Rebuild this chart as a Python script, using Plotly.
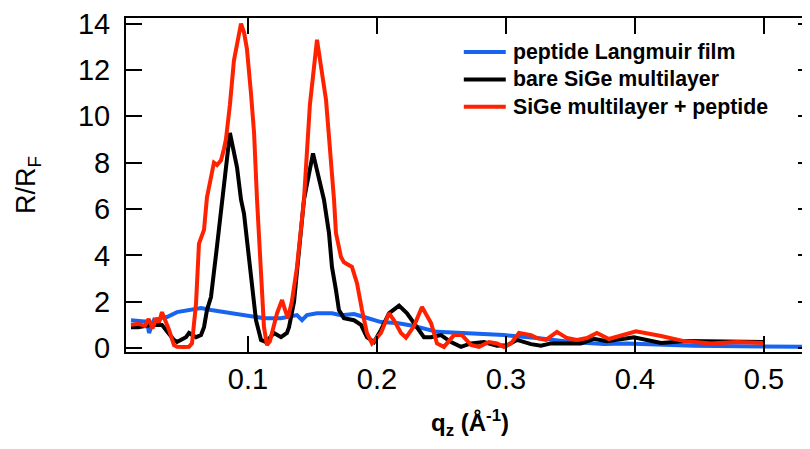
import plotly.graph_objects as go

# peptide Langmuir film (blue)
q_blue = [0.0093, 0.0150, 0.0200, 0.0217, 0.0233, 0.0271, 0.0295, 0.0326, 0.0372, 0.0450,
          0.0558, 0.0636, 0.0713, 0.0814, 0.0915, 0.1023, 0.1124, 0.1256, 0.1380, 0.1419,
          0.1457, 0.1535, 0.1651, 0.1721, 0.1822, 0.1899, 0.2031, 0.2155, 0.2287, 0.2465,
          0.2729, 0.2984, 0.3240, 0.3504, 0.3760, 0.3938, 0.4457, 0.4977, 0.5388]
r_blue = [1.2, 1.15, 1.15, 1.16, 0.65, 1.2, 1.1, 1.29, 1.34, 1.55,
          1.68, 1.73, 1.64, 1.55, 1.47, 1.34, 1.29, 1.29, 1.42, 1.2,
          1.42, 1.5, 1.5, 1.42, 1.47, 1.34, 1.12, 1.08, 0.95, 0.7,
          0.65, 0.56, 0.43, 0.26, 0.17, 0.2, 0.1, 0.05, 0.05]

# bare SiGe multilayer (black)
q_black = [0.0093, 0.0150, 0.0200, 0.0250, 0.0295, 0.0333, 0.0364, 0.0426, 0.0450, 0.0519,
           0.0543, 0.0597, 0.0636, 0.0659, 0.0682, 0.0713, 0.0760, 0.0814, 0.0860, 0.0915,
           0.0946, 0.0969, 0.1023, 0.1062, 0.1101, 0.1140, 0.1202, 0.1256, 0.1302, 0.1318,
           0.1357, 0.1395, 0.1434, 0.1504, 0.1589, 0.1628, 0.1651, 0.1682, 0.1705, 0.1744,
           0.1822, 0.1876, 0.1922, 0.1977, 0.2031, 0.2093, 0.2171, 0.2233, 0.2287, 0.2364,
           0.2419, 0.2496, 0.2574, 0.2651, 0.2729, 0.2829, 0.2930, 0.3008, 0.3085, 0.3194,
           0.3271, 0.3349, 0.3450, 0.3581, 0.3682, 0.3783, 0.3992, 0.4202, 0.4403, 0.4713,
           0.5000]
r_black = [0.9, 0.9, 0.95, 1.0, 1.0, 1.0, 0.78, 0.35, 0.26, 0.47,
           0.65, 0.47, 0.56, 0.9, 1.64, 2.2, 4.4, 7.25, 9.28, 7.8,
           6.4, 5.8, 2.9, 1.2, 0.35, 0.26, 0.65, 0.47, 0.65, 0.9,
           2.0, 4.0, 6.4, 8.4, 6.4, 4.96, 3.5, 2.5, 1.64, 1.29,
           1.2, 1.0, 0.47, 0.26, 0.78, 1.5, 1.83, 1.5, 1.08, 0.47,
           0.47, 0.56, 0.26, 0.05, 0.2, 0.26, 0.1, 0.12, 0.35, 0.17,
           0.1, 0.2, 0.2, 0.2, 0.4, 0.3, 0.47, 0.22, 0.3, 0.26,
           0.26]

# SiGe multilayer + peptide (red)
q_red = [0.0093, 0.0150, 0.0200, 0.0230, 0.0260, 0.0290, 0.0310, 0.0333, 0.0365, 0.0388,
         0.0426, 0.0450, 0.0500, 0.0543, 0.0566, 0.0597, 0.0620, 0.0659, 0.0682, 0.0713,
         0.0736, 0.0760, 0.0791, 0.0814, 0.0829, 0.0860, 0.0891, 0.0915, 0.0946, 0.0970,
         0.0992, 0.1023, 0.1047, 0.1070, 0.1101, 0.1124, 0.1147, 0.1170, 0.1225, 0.1264,
         0.1290, 0.1310, 0.1340, 0.1380, 0.1434, 0.1480, 0.1535, 0.1605, 0.1667, 0.1682,
         0.1721, 0.1744, 0.1806, 0.1845, 0.1884, 0.1922, 0.1961, 0.2031, 0.2093, 0.2132,
         0.2186, 0.2225, 0.2287, 0.2349, 0.2419, 0.2465, 0.2519, 0.2597, 0.2659, 0.2729,
         0.2791, 0.2868, 0.2930, 0.2984, 0.3039, 0.3101, 0.3194, 0.3240, 0.3310, 0.3395,
         0.3473, 0.3550, 0.3628, 0.3705, 0.3798, 0.4008, 0.4202, 0.4380, 0.4589, 0.4791,
         0.5000]
r_red = [1.0, 1.05, 0.95, 1.25, 0.85, 1.3, 1.1, 1.55, 1.1, 0.78,
         0.13, 0.06, 0.05, 0.06, 0.2, 1.9, 4.5, 5.1, 6.5, 7.5,
         8.0, 7.9, 8.1, 8.6, 9.0, 10.5, 12.4, 13.1, 14.0, 13.6,
         12.9, 11.0, 9.3, 6.4, 2.9, 0.9, 0.13, 0.3, 1.5, 2.07,
         1.6, 1.3, 2.0, 3.5, 6.4, 10.5, 13.3, 10.7, 6.4, 4.96,
         3.93, 3.7, 3.5, 2.8, 1.64, 0.65, 0.2, 0.65, 1.5, 1.2,
         0.65, 0.45, 0.95, 1.77, 1.08, 0.2, 0.05, 0.56, 0.56, 0.13,
         0.05, 0.26, 0.2, 0.05, 0.2, 0.65, 0.56, 0.43, 0.35, 0.7,
         0.43, 0.35, 0.43, 0.65, 0.39, 0.72, 0.52, 0.3, 0.2, 0.26,
         0.22]

series_names = ["peptide Langmuir film", "bare SiGe multilayer", "SiGe multilayer + peptide"]
series_colors = ["#1764f0", "#000000", "#ff2200"]

x_ticks = [0.1, 0.2, 0.3, 0.4, 0.5]
y_ticks = [0, 2, 4, 6, 8, 10, 12, 14]

FONT = "Liberation Sans, Arial, Helvetica, sans-serif"

fig = go.Figure()
for qs, rs, nm, col in zip([q_blue, q_black, q_red], [r_blue, r_black, r_red],
                           series_names, series_colors):
    fig.add_trace(go.Scatter(x=qs, y=rs, mode="lines", name=nm,
                             line=dict(color=col, width=4), showlegend=False))

# manual legend (plot-area paper coordinates)
leg_y = [0.898, 0.816, 0.734]
for nm, col, yy in zip(series_names, series_colors, leg_y):
    fig.add_shape(type="line", xref="paper", yref="paper",
                  x0=0.491, x1=0.552, y0=yy, y1=yy,
                  line=dict(color=col, width=4))
    fig.add_annotation(xref="paper", yref="paper", x=0.559, y=yy,
                       xanchor="left", yanchor="middle", showarrow=False,
                       text="<b>" + nm + "</b>",
                       font=dict(family=FONT, size=21.3, color="black"))

fig.update_layout(
    width=810, height=449,
    margin=dict(l=118, r=4, t=10, b=105),
    plot_bgcolor="white", paper_bgcolor="white",
    font=dict(family=FONT, color="black", size=28),
    showlegend=False,
)
fig.update_xaxes(
    range=[0.00543, 0.5388], tickvals=x_ticks, ticktext=[str(v) for v in x_ticks],
    ticks="inside", ticklen=16, tickwidth=1.5, tickcolor="black",
    showline=True, linecolor="black", linewidth=2, mirror="ticks",
    showgrid=False, zeroline=False, automargin=False,
    tickfont=dict(size=29, family=FONT), ticklabelstandoff=0,
    ticklabeloverflow="allow",
    title=dict(text="<b>q<sub>z</sub> (Å<sup>-1</sup>)</b>", font=dict(size=24, family=FONT), standoff=20),
)
fig.update_yaxes(
    range=[-0.17, 14.24], tickvals=y_ticks,
    ticks="inside", ticklen=16, tickwidth=1.5, tickcolor="black",
    showline=True, linecolor="black", linewidth=2, mirror="ticks",
    showgrid=False, zeroline=False, automargin=False,
    tickfont=dict(size=29, family=FONT), ticklabelstandoff=8,
    ticklabeloverflow="allow",
    title=dict(text="R/R<sub>F</sub>", font=dict(size=27, family=FONT), standoff=34),
)

fig.write_html("out.html")
